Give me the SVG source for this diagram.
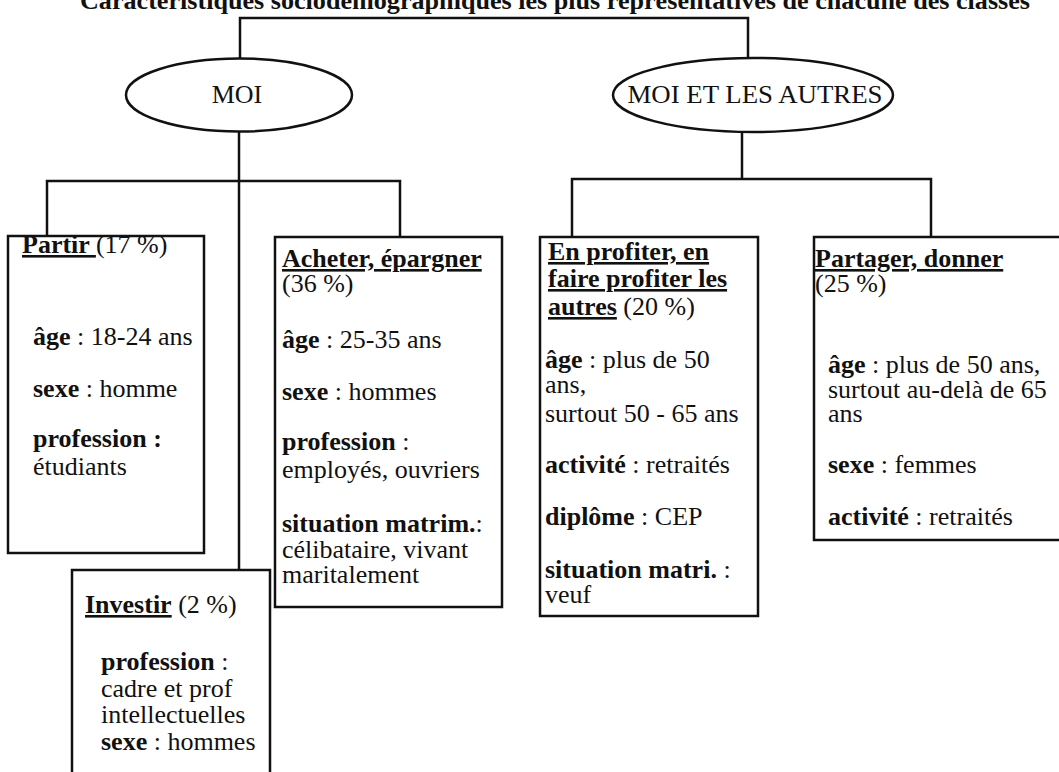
<svg xmlns="http://www.w3.org/2000/svg" width="1059" height="772" viewBox="0 0 1059 772">
<style>
.t { font-family: "Liberation Serif", "Times New Roman", serif; font-size: 26px; fill: #111; }
.b { font-weight: bold; }
.u { text-decoration: underline; }
.box { fill: #fff; stroke: #111; stroke-width: 2.5; }
.conn { fill: none; stroke: #111; stroke-width: 2.5; }
</style>
<rect width="1059" height="772" fill="#fff"/>
<g id="title">
<text class="t b" x="80" y="9" font-size="23" textLength="950" lengthAdjust="spacingAndGlyphs">Caractéristiques sociodémographiques les plus représentatives de chacune des classes</text>
</g>
<g id="connectors">
<path class="conn" d="M240 58 V18 H748 V58"/>
<path class="conn" d="M239 131 V569"/>
<path class="conn" d="M47 236 V181 H400 V237"/>
<path class="conn" d="M742 132 V179"/>
<path class="conn" d="M572 237 V179 H931 V237"/>
</g>
<g id="moi">
<ellipse class="box" cx="239" cy="95" rx="113" ry="36.5"/>
<text class="t" x="237" y="103" text-anchor="middle">MOI</text>
</g>
<g id="moi-et-les-autres">
<ellipse class="box" cx="753" cy="95" rx="140" ry="37"/>
<text class="t" x="755" y="103" text-anchor="middle" textLength="255" lengthAdjust="spacingAndGlyphs">MOI ET LES AUTRES</text>
</g>
<g id="partir">
<rect class="box" x="8" y="236" width="196" height="317"/>
<text class="t" x="22" y="253"><tspan class="b u">Partir </tspan>(17 %)</text>
<text class="t" x="33" y="345"><tspan class="b">âge</tspan> : 18-24 ans</text>
<text class="t" x="33" y="397"><tspan class="b">sexe</tspan> : homme</text>
<text class="t b" x="33" y="447">profession :</text>
<text class="t" x="33" y="475">étudiants</text>
</g>
<g id="acheter">
<rect class="box" x="275" y="237" width="227" height="370"/>
<text class="t b u" x="282" y="267">Acheter, épargner</text>
<text class="t" x="282" y="292">(36 %)</text>
<text class="t" x="282" y="348"><tspan class="b">âge</tspan> : 25-35 ans</text>
<text class="t" x="282" y="400"><tspan class="b">sexe</tspan> : hommes</text>
<text class="t" x="282" y="450"><tspan class="b">profession</tspan> :</text>
<text class="t" x="282" y="478">employés, ouvriers</text>
<text class="t" x="282" y="532"><tspan class="b">situation matrim.</tspan>:</text>
<text class="t" x="282" y="558">célibataire, vivant</text>
<text class="t" x="282" y="583">maritalement</text>
</g>
<g id="investir">
<rect class="box" x="72" y="570" width="198" height="230"/>
<text class="t" x="85" y="613"><tspan class="b u">Investir</tspan> (2 %)</text>
<text class="t" x="101" y="670"><tspan class="b">profession</tspan> :</text>
<text class="t" x="101" y="697">cadre et prof</text>
<text class="t" x="101" y="723">intellectuelles</text>
<text class="t" x="101" y="750"><tspan class="b">sexe</tspan> : hommes</text>
</g>
<g id="en-profiter">
<rect class="box" x="540" y="237" width="218" height="379"/>
<text class="t b u" x="548" y="260">En profiter, en </text>
<text class="t b u" x="548" y="287">faire profiter les </text>
<text class="t" x="548" y="315"><tspan class="b u">autres</tspan> (20 %)</text>
<text class="t" x="545" y="368"><tspan class="b">âge</tspan> : plus de 50</text>
<text class="t" x="545" y="393">ans,</text>
<text class="t" x="545" y="422">surtout 50 - 65 ans</text>
<text class="t" x="545" y="473"><tspan class="b">activité</tspan> : retraités</text>
<text class="t" x="545" y="525"><tspan class="b">diplôme</tspan> : CEP</text>
<text class="t" x="545" y="578"><tspan class="b">situation matri.</tspan> :</text>
<text class="t" x="545" y="603">veuf</text>
</g>
<g id="partager">
<rect class="box" x="814" y="237" width="260" height="303"/>
<text class="t b u" x="815" y="267">Partager, donner</text>
<text class="t" x="815" y="292">(25 %)</text>
<text class="t" x="828" y="373"><tspan class="b">âge</tspan> : plus de 50 ans,</text>
<text class="t" x="828" y="398">surtout au-delà de 65</text>
<text class="t" x="828" y="422">ans</text>
<text class="t" x="828" y="473"><tspan class="b">sexe</tspan> : femmes</text>
<text class="t" x="828" y="525"><tspan class="b">activité</tspan> : retraités</text>
</g>
</svg>
